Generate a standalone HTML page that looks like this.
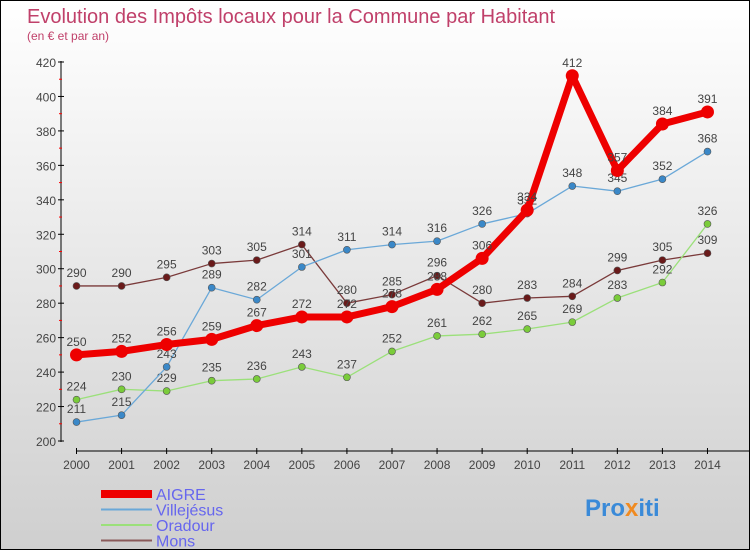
<!DOCTYPE html>
<html><head><meta charset="utf-8"><style>
body{margin:0}
#c{width:750px;height:550px;position:relative;box-sizing:border-box;border:1px solid #000;background:linear-gradient(#fff,#cfcfcf);font-family:"Liberation Sans",sans-serif;overflow:hidden}
svg text{font-family:"Liberation Sans",sans-serif}
</style></head><body>
<div id="c">
<svg id="s" width="750" height="550">
<text x="26" y="22" font-size="20" fill="#c0406a">Evolution des Impôts locaux pour la Commune par Habitant</text>
<text x="26" y="39" font-size="12" fill="#c0406a">(en € et par an)</text>
</svg>
</div>
<script>
const years=[2000,2001,2002,2003,2004,2005,2006,2007,2008,2009,2010,2011,2012,2013,2014];
const aigre=[250,252,256,259,267,272,272,278,288,306,334,412,357,384,391];
const villejesus=[211,215,243,289,282,301,311,314,316,326,332,348,345,352,368];
const oradour=[224,230,229,235,236,243,237,252,261,262,265,269,283,292,326];
const mons=[290,290,295,303,305,314,280,285,296,280,283,284,299,305,309];
const yTicks=[200,220,240,260,280,300,320,340,360,380,400,420];
const NS="http://www.w3.org/2000/svg";
const s=document.getElementById('s');
const X=i=>75.5+i*45.07;
const Y=v=>440-(v-200)*(379/220);
function el(t,a,p){const e=document.createElementNS(NS,t);for(const k in a)e.setAttribute(k,a[k]);(p||s).appendChild(e);return e;}
const ax=el('g',{});


el('line',{x1:60,y1:60,x2:60,y2:441,stroke:'#000','stroke-width':1},ax);
el('line',{x1:75,y1:450,x2:750,y2:450,stroke:'#000','stroke-width':1},ax);
yTicks.forEach(v=>{
 el('line',{x1:57,y1:Y(v),x2:63,y2:Y(v),stroke:'#000'},ax);
 if(v<420)el('line',{x1:58,y1:Y(v+10),x2:61,y2:Y(v+10),stroke:'red'},ax);
 const t=el('text',{x:55,y:Y(v)+5,'text-anchor':'end','font-size':12,fill:'#444'},ax);t.textContent=v;
 
 
});
years.forEach((y,i)=>{
 el('line',{x1:X(i),y1:447,x2:X(i),y2:453,stroke:'#000'},ax);
 const t=el('text',{x:X(i),y:468,'text-anchor':'middle','font-size':12,fill:'#444'},ax);t.textContent=y;
 
 
});
function series(name,data,color,w,r,dot){
 const g=el('g',{});
 
 
 const pts=data.map((v,i)=>X(i)+','+Y(v)).join(' ');
 el('polyline',{points:pts,fill:'none',stroke:color,'stroke-width':w,'stroke-linejoin':'round'},g);
 data.forEach((v,i)=>{
  const c=el('circle',{cx:X(i),cy:Y(v),r:r,fill:dot,stroke:'#555','stroke-width':w>3?0:0.6},g);
  
  
  const t=el('text',{x:X(i),y:Y(v)-9,'text-anchor':'middle','font-size':12,fill:'#444'},g);t.textContent=v;
  
  
 });
}
series('mons',mons,'#7a3a3a',1.3,3.5,'#6a1a1a');
series('oradour',oradour,'#9be07a',1.3,3.5,'#7acc3a');
series('villejesus',villejesus,'#6aa8d8',1.3,3.5,'#3a88c8');
series('aigre',aigre,'#ee0000',7,6.5,'#ee0000');
const leg=[['AIGRE','#ee0000',8],['Villejésus','#6aa8d8',2],['Oradour','#9be07a',2],['Mons','#8a5a5a',2]];
leg.forEach((l,i)=>{
 const g=el('g',{});
 
 
 const y=493+i*15.5;
 el('line',{x1:100,y1:y,x2:151,y2:y,stroke:l[1],'stroke-width':l[2]},g);
 const t=el('text',{x:155,y:y+6,'font-size':16,fill:'#6666ee'},g);t.textContent=l[0];
});
const p=el('text',{x:584,y:515,'font-size':24,'font-weight':'bold',fill:'#3a8ad8'});


p.innerHTML='Pro<tspan fill="#f08a20">x</tspan>iti';
</script>
</body></html>
